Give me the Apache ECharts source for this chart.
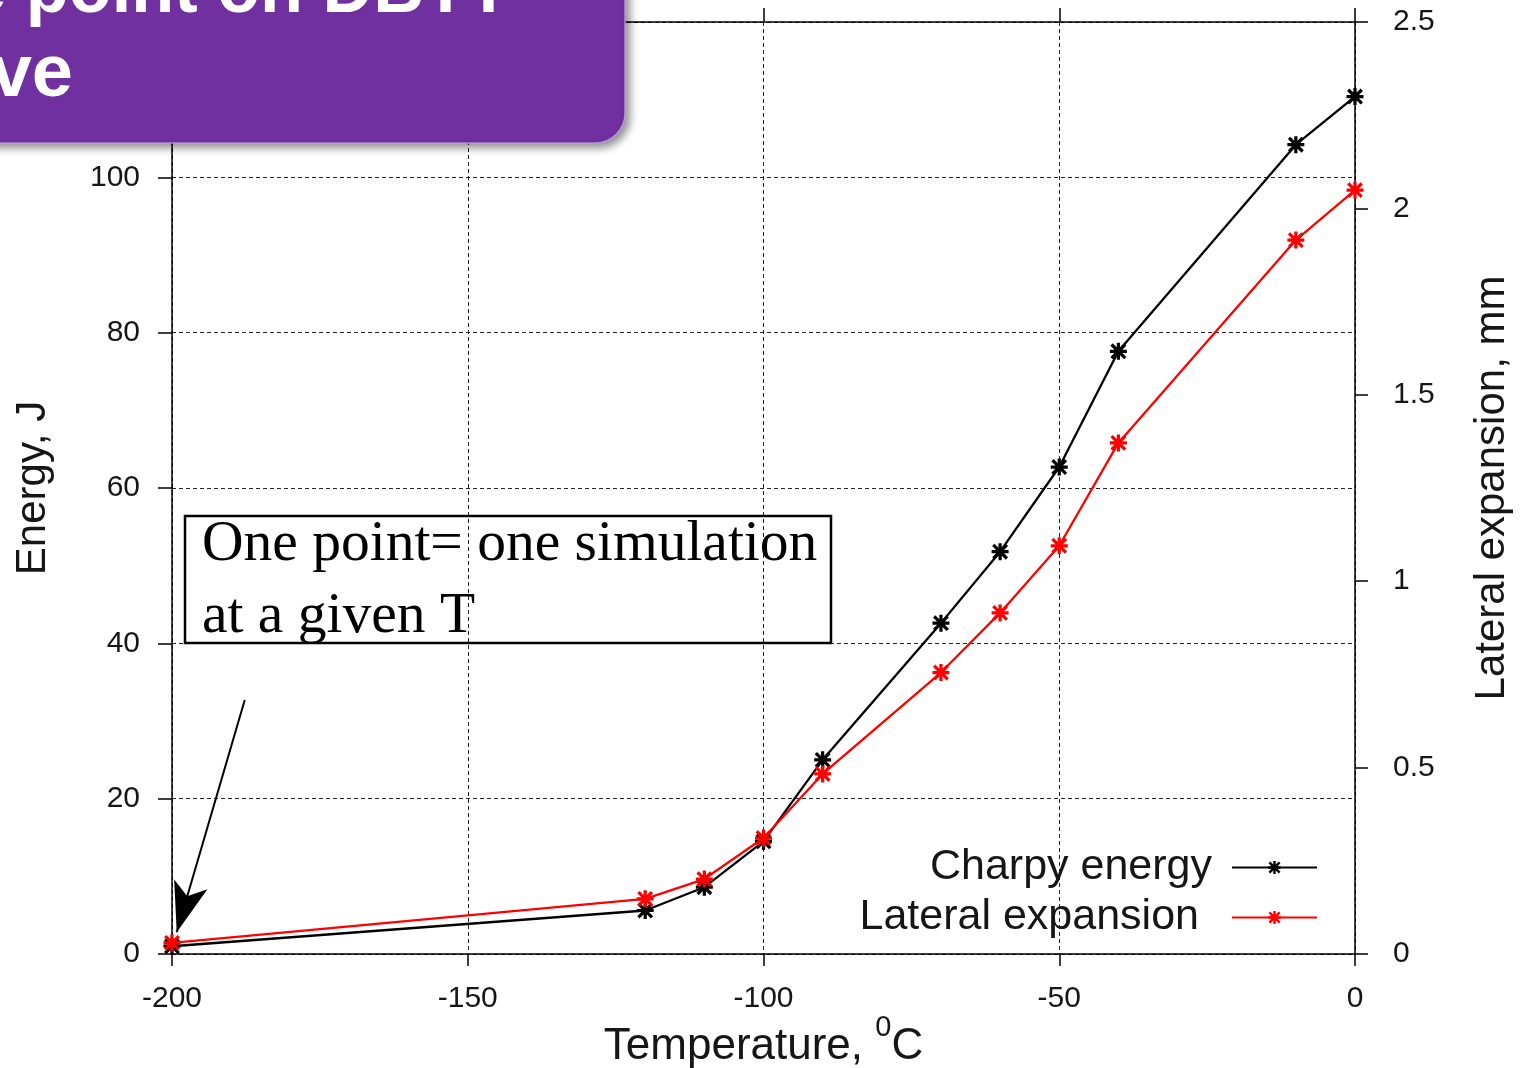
<!DOCTYPE html>
<html>
<head>
<meta charset="utf-8">
<script src="https://cdn.jsdelivr.net/npm/echarts@6/dist/echarts.min.js"></script>
<style>
html,body{margin:0;padding:0;background:#fff;}
#chart{width:1521px;height:1068px;}
</style>
</head>
<body>
<div id="chart"></div>
<script>
// ---- data ----
const temperatures = [-200, -120, -110, -100, -90, -70, -60, -50, -40, -10, 0];
const charpyEnergy = [1.0, 5.6, 8.6, 14.5, 25.0, 42.6, 51.8, 62.7, 77.6, 104.2, 110.4];
const lateralExpansion = [0.03, 0.148, 0.201, 0.311, 0.483, 0.755, 0.915, 1.095, 1.371, 1.915, 2.049];
const xTicks = { min: -200, max: 0, interval: 50 };
const energyTicks = { min: 0, max: 120, interval: 20 };
const expansionTicks = { min: 0, max: 2.5, interval: 0.5 };
const seriesNames = ['Charpy energy', 'Lateral expansion'];
const arrowFrom = [-187.7, 32.7];
const arrowTo = [-199.2, 2.8];

const STAR = 'path://M-0.19,-1L0.19,-1L0.19,1L-0.19,1Z M-1,-0.19L1,-0.19L1,0.19L-1,0.19Z M-0.666,-0.934L0.934,0.666L0.666,0.934L-0.934,-0.666Z M0.666,-0.934L0.934,-0.666L-0.666,0.934L-0.934,0.666Z';
const SANS = '"Liberation Sans", Arial, sans-serif';
const SERIF = '"Liberation Serif", "Times New Roman", serif';
const TXT = '#161616';

const chart = echarts.init(document.getElementById('chart'));

const axisLine = { show: true, onZero: false, lineStyle: { color: '#000', width: 1.5 } };
const dashed = { show: true, lineStyle: { color: '#222', width: 1, type: [4, 3] } };

const option = {
  backgroundColor: '#fff',
  animation: false,
  grid: { left: 172, right: 166, top: 22, bottom: 114, containLabel: false, outerBoundsMode: 'none' },
  legend: [
    {
      data: [seriesNames[0]], orient: 'vertical', align: 'right',
      right: 203, top: 846, padding: 0, itemWidth: 85, itemHeight: 16,
      textStyle: { fontSize: 43, fontFamily: SANS, color: TXT, padding: [0, 15, 0, 0] },
      selectedMode: false
    },
    {
      data: [seriesNames[1]], orient: 'vertical', align: 'right',
      right: 203, top: 896, padding: 0, itemWidth: 85, itemHeight: 16,
      textStyle: { fontSize: 43, fontFamily: SANS, color: TXT, padding: [0, 28, 0, 0] },
      selectedMode: false
    }
  ],
  xAxis: [
    {
      type: 'value', position: 'bottom', min: xTicks.min, max: xTicks.max, interval: xTicks.interval,
      axisLine: axisLine,
      axisTick: { show: true, inside: false, length: 12, lineStyle: { color: '#000', width: 1.5 } },
      axisLabel: { fontSize: 30, fontFamily: SANS, color: TXT, margin: 30 },
      splitLine: dashed,
      name: '{t|Temperature, }{s|0}{t|C}',
      nameLocation: 'middle', nameGap: 59, nameMoveOverlap: false,
      nameTextStyle: {
        rich: {
          t: { fontSize: 44, fontFamily: SANS, color: TXT, lineHeight: 68 },
          s: { fontSize: 29, fontFamily: SANS, color: TXT, lineHeight: 29, verticalAlign: 'top' }
        }
      }
    },
    {
      type: 'value', position: 'top', min: xTicks.min, max: xTicks.max, interval: xTicks.interval,
      axisLine: axisLine,
      axisTick: { show: true, inside: false, length: 14, lineStyle: { color: '#000', width: 1.5 } },
      axisLabel: { show: false },
      splitLine: { show: false }
    }
  ],
  yAxis: [
    {
      type: 'value', position: 'left', min: energyTicks.min, max: energyTicks.max, interval: energyTicks.interval,
      axisLine: axisLine,
      axisTick: { show: true, inside: false, length: 14, lineStyle: { color: '#000', width: 1.5 } },
      axisLabel: { fontSize: 30, fontFamily: SANS, color: TXT, margin: 32 },
      splitLine: dashed,
      name: 'Energy, J', nameLocation: 'middle', nameGap: 118,
      nameTextStyle: { fontSize: 42, fontFamily: SANS, color: TXT }
    },
    {
      type: 'value', position: 'right', min: expansionTicks.min, max: expansionTicks.max, interval: expansionTicks.interval,
      axisLine: axisLine,
      axisTick: { show: true, inside: false, length: 13, lineStyle: { color: '#000', width: 1.5 } },
      axisLabel: { fontSize: 30, fontFamily: SANS, color: TXT, margin: 38 },
      splitLine: { show: false },
      name: 'Lateral expansion, mm', nameLocation: 'middle', nameGap: 116,
      nameTextStyle: { fontSize: 42, fontFamily: SANS, color: TXT }
    }
  ],
  series: [
    {
      name: seriesNames[0], type: 'line', xAxisIndex: 0, yAxisIndex: 0,
      data: temperatures.map((t, i) => [t, charpyEnergy[i]]),
      symbol: STAR, symbolSize: 17, showAllSymbol: true,
      lineStyle: { color: '#000', width: 2.3 },
      itemStyle: { color: '#000' },
      z: 3,
      markLine: {
        silent: true, animation: false,
        symbol: ['none', 'arrow'], symbolSize: [26, 50],
        label: { show: false },
        lineStyle: { color: '#000', width: 2, type: 'solid' },
        data: [[{ coord: arrowFrom }, { coord: arrowTo }]]
      }
    },
    {
      name: seriesNames[1], type: 'line', xAxisIndex: 0, yAxisIndex: 1,
      data: temperatures.map((t, i) => [t, lateralExpansion[i]]),
      symbol: STAR, symbolSize: 17, showAllSymbol: true,
      lineStyle: { color: '#ff0000', width: 2.3 },
      itemStyle: { color: '#ff0000' },
      z: 4
    }
  ],
  graphic: [
    {
      type: 'group', z: 100,
      children: [
        {
          type: 'rect', z: 100,
          shape: { x: -40, y: -40, width: 665, height: 183, r: 30 },
          style: { fill: '#7030A0', stroke: 'rgba(190,160,225,0.8)', lineWidth: 1.5,
                   shadowBlur: 8, shadowOffsetX: 4, shadowOffsetY: 4, shadowColor: 'rgba(0,0,0,0.45)' }
        },
        {
          type: 'text', z: 101, x: 510, y: -8, scaleX: 0.95,
          style: { text: 'One point on DBTT', fill: '#fff', font: 'bold 74px ' + SANS, align: 'right', verticalAlign: 'middle' }
        },
        {
          type: 'text', z: 101, x: 73, y: 76, scaleX: 1.0,
          style: { text: 'curve', fill: '#fff', font: 'bold 74px ' + SANS, align: 'right', verticalAlign: 'middle' }
        }
      ]
    },
    {
      type: 'group', z: 50,
      children: [
        {
          type: 'rect', z: 50,
          shape: { x: 185, y: 516, width: 646, height: 127 },
          style: { fill: 'none', stroke: '#000', lineWidth: 2.5 }
        },
        {
          type: 'text', z: 51, x: 202, y: 545,
          style: { text: 'One point= one simulation', fill: '#000', font: '57.5px ' + SERIF, align: 'left', verticalAlign: 'middle' }
        },
        {
          type: 'text', z: 51, x: 202, y: 617,
          style: { text: 'at a given T', fill: '#000', font: '57.5px ' + SERIF, align: 'left', verticalAlign: 'middle' }
        }
      ]
    }
  ]
};
chart.setOption(option);
</script>
</body>
</html>
